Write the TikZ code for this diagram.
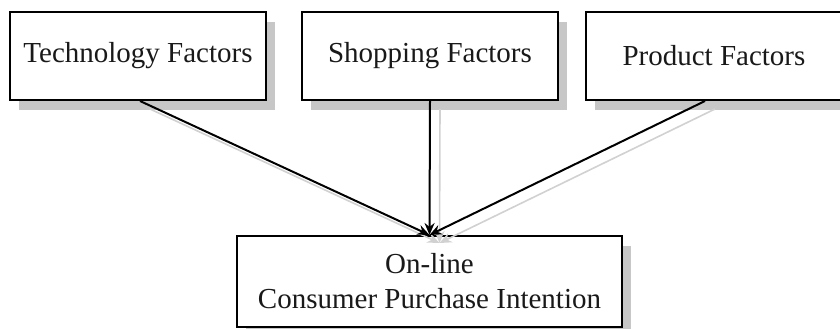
\documentclass[tikz,border=0pt]{standalone}
\usepackage{fontspec}
\setmainfont{Liberation Serif}
\usetikzlibrary{shadows,arrows.meta,calc}
\begin{document}
\begin{tikzpicture}[x=1pt,y=-1pt,
  factor/.style={draw=black, line width=2pt, fill=white, minimum width=256pt, minimum height=88pt,
    inner sep=0pt, font=\fontsize{29}{35}\selectfont, text=black!90,
    general shadow={fill=black!22, shadow xshift=9pt, shadow yshift=-10pt}},
  outcome/.style={factor, minimum width=385pt, minimum height=91pt, align=center},
  arr/.style={line width=2pt, -{Stealth[length=12pt,width=10pt]}},
  shadowarr/.style={arr, line width=1.6pt, draw=black!18, color=black!18, transform canvas={xshift=10pt,yshift=-8pt}}]
\useasboundingbox (0,0) rectangle (840,329);
\node[factor] (t) at (138,56) {Technology Factors};
\node[factor] (s) at (430,56) {Shopping Factors};
\node[factor] (p) at (714,56) {Product Factors};
\node[outcome] (c) at (429.5,281.5) {On-line\\Consumer Purchase Intention};
\coordinate (tip) at (c.north);
\coordinate (ps) at ($(p.south)+(-9,0)$);
\coordinate (ts) at ($(t.south)+(2,0)$);
\draw[shadowarr] (ts) -- (tip);
\draw[shadowarr] (s.south) -- (tip);
\draw[shadowarr] (ps) -- (tip);
\draw[arr] (ts) -- (tip);
\draw[arr] (s.south) -- (tip);
\draw[arr] (ps) -- (tip);
\end{tikzpicture}
\end{document}
